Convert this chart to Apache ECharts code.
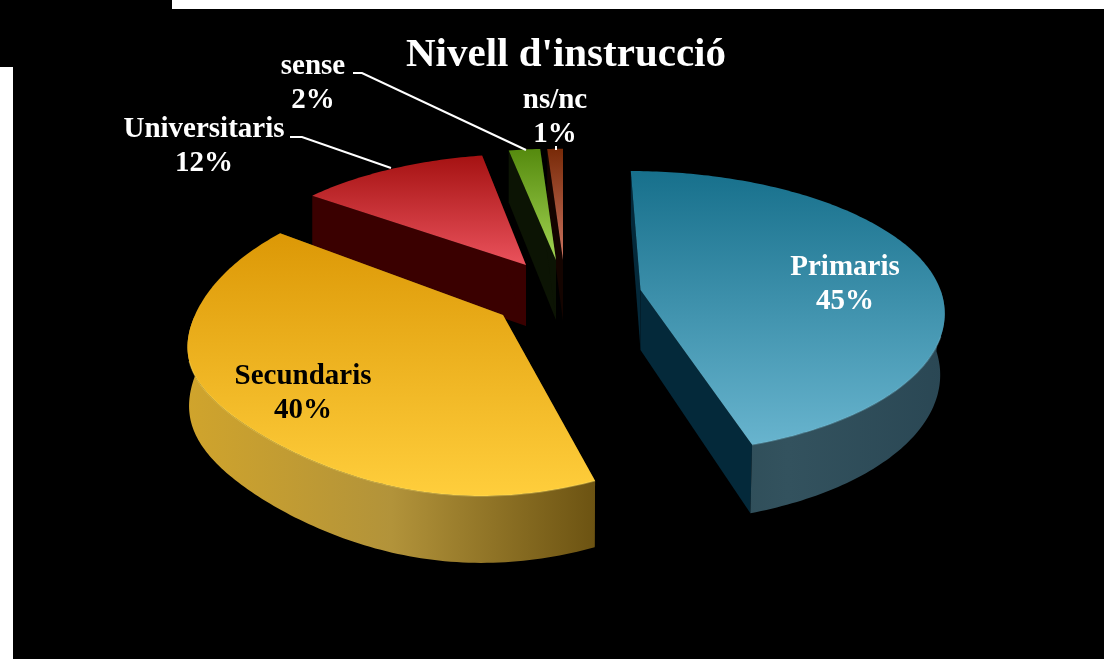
<!DOCTYPE html>
<html><head><meta charset="utf-8">
<style>html,body{margin:0;padding:0;background:#000}#c{width:1104px;height:659px}</style>
<script src="https://cdn.jsdelivr.net/npm/echarts@6/dist/echarts.min.js"></script>
</head><body><div id="c"></div>
<script>
// DATA
const categories = ['Primaris', 'Secundaris', 'Universitaris', 'sense', 'ns/nc'];
const values = [45, 40, 12, 2, 1];

// LAYOUT: per-slice projection of the tilted, exploded pie
const projection = [
  {ax:640.5,ay:290,a:300,b:2,c:138,p:.16,h:60,g:8,s:.985,w:0},
  {ax:503,ay:315,a:308,b:-18,c:152,p:.16,h:57,g:14,s:.995,w:46},
  {ax:526,ay:265,a:292,b:-4,c:129,p:.16,h:61,g:0,s:1,w:0},
  {ax:556,ay:260,a:292,b:0,c:129,p:.16,h:60,g:0,s:1,w:0},
  {ax:563,ay:260,a:292,b:0,c:129,p:.16,h:61,g:0,s:1,w:0}
];
// STYLES
const topColors = [['#17708c','#68b4ce'],['#dc9806','#ffce3c'],['#a51212','#ea525c'],['#558a0e','#a2d452'],['#782a08','#cc7460']];
const wallColors = [['#28464f','#33525e','#2a4754'],['#d0a42c','#b2933a','#6c5312'],['#3a0000','#3a0000','#3a0000'],['#0c1404','#0c1404','#0c1404'],['#140400','#140400','#140400']];
const cutColors = ['#04293a','#5a4510','#3a0000','#0c1404','#140400'];
const rimColors = ['#7fc6dc','#ffe46e','#e85058','#a2d452','#cc7460'];
const labelSpots = [
  {x:845,y:284.5,fill:'#fff'},{x:303,y:394,fill:'#000'},{x:204,y:147,fill:'#fff'},
  {x:313,y:84,fill:'#fff'},{x:555,y:118,fill:'#fff'}
];
const leaders = [null,null,[[290,137],[302,137],[391,168]],[[353,73],[362,73],[526,150]],[[556,146],[556,150]]];
const drawOrder = [4,3,2,0,1];
const FONT = '"Liberation Serif", serif';

const total = values.reduce((s,v)=>s+v,0);
const starts = []; let acc = 0;
values.forEach(v=>{starts.push(acc); acc+=v;});

function proj(L,th){
  const u=Math.sin(th), v=-Math.cos(th), D=1-L.p*v;
  const far=v<0?v*v:0, near=v>0?v*v:0;
  return [L.ax+(L.a*u+L.b*v)/D-L.g*far, L.ay+(L.c*v-L.w*u*u*near)/D, D];
}
function low(L,pt){
  return [L.ax+(pt[0]-L.ax)*L.s, L.ay+(pt[1]-L.ay)*L.s+L.h/pt[2]];
}
function grad(x,y,x2,y2,cols){
  return {type:'linear',global:true,x,y,x2,y2,
    colorStops:cols.map((c,i)=>({offset:i/(cols.length-1),color:c}))};
}
function renderSlice(params,api){
  const i=api.value(0), val=api.value(1), L=projection[i];
  const t0=starts[i]/total*2*Math.PI, t1=(starts[i]+val)/total*2*Math.PI;
  const n=Math.max(8,Math.round((t1-t0)*60));
  const arc=[]; for(let k=0;k<=n;k++) arc.push(proj(L,t0+(t1-t0)*k/n));
  const top=arc.map(p=>[p[0],p[1]]);
  const bot=arc.map(p=>low(L,p));
  const apex=[L.ax,L.ay], apexB=low(L,[L.ax,L.ay,1]);
  const xs=top.concat([apex]).map(p=>p[0]), ys=top.concat([apex]).map(p=>p[1]);
  const x0=Math.min(...xs),x1=Math.max(...xs),y0=Math.min(...ys),y1=Math.max(...ys);
  const kids=[];
  kids.push({type:'polygon',shape:{points:[apex,top[0],bot[0],apexB]},style:{fill:cutColors[i]}});
  kids.push({type:'polygon',shape:{points:[apex,top[n],bot[n],apexB]},style:{fill:cutColors[i]}});
  const frontTop=top.filter((p,k)=>arc[k][2]<=1), frontBot=bot.filter((p,k)=>arc[k][2]<=1);
  if(frontTop.length>1) kids.push({type:'polygon',shape:{points:frontTop.concat(frontBot.slice().reverse())},
    style:{fill:grad(x0,0,x1,0,wallColors[i])}});
  kids.push({type:'polygon',shape:{points:[apex].concat(top)},style:{fill:grad(0,y0,0,y1,topColors[i])}});
  const rim=top.filter((p,k)=>arc[k][2]<.95);
  if(i<2 && rim.length>1) kids.push({type:'polyline',shape:{points:rim},
    style:{stroke:rimColors[i],lineWidth:1.5,fill:'none',opacity:.35}});
  return {type:'group',children:kids};
}
function renderLabel(params,api){
  const i=api.value(0), S=labelSpots[i], kids=[];
  if(leaders[i]) kids.push({type:'polyline',shape:{points:leaders[i]},style:{stroke:'#fff',lineWidth:2,fill:'none'}});
  kids.push({type:'text',style:{text:categories[i]+'\n'+Math.round(api.value(1)/total*100)+'%',x:S.x,y:S.y,
    align:'center',verticalAlign:'middle',fill:S.fill,font:'bold 29px '+FONT,lineHeight:34}});
  return {type:'group',children:kids};
}
const chart=echarts.init(document.getElementById('c'),null,{renderer:'canvas'});
chart.setOption({
  animation:false,
  backgroundColor:'#000',
  title:{text:"Nivell d'instrucció",left:561,top:30,textAlign:'center',
    textStyle:{color:'#fff',fontFamily:FONT,fontWeight:'bold',fontSize:41}},
  graphic:[
    {type:'rect',silent:true,z:-1,shape:{x:172,y:0,width:932,height:9},style:{fill:'#fff'}},
    {type:'rect',silent:true,z:-1,shape:{x:0,y:67,width:13,height:592},style:{fill:'#fff'}}
  ],
  series:[
    {type:'custom',coordinateSystem:'none',renderItem:renderSlice,silent:true,
     data:drawOrder.map(i=>({name:categories[i],value:[i,values[i]]}))},
    {type:'custom',coordinateSystem:'none',renderItem:renderLabel,silent:true,
     data:categories.map((c,i)=>({name:c,value:[i,values[i]]}))}
  ]
});
</script></body></html>
